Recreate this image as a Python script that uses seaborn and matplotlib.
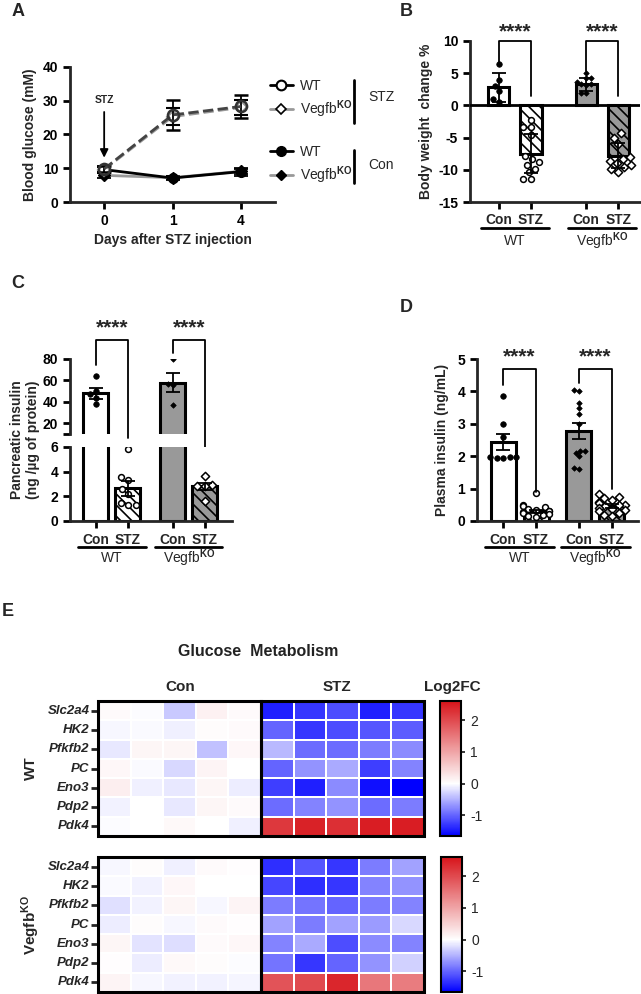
import numpy as np
import pandas as pd
import matplotlib
matplotlib.use('Agg')
import matplotlib.pyplot as plt
import matplotlib.transforms as mtransforms
from matplotlib.lines import Line2D
from matplotlib.patches import Rectangle
from matplotlib.colors import LinearSegmentedColormap
import seaborn as sns

# ---- A: blood glucose (mean, sem) ----
days = ['0', '1', '4']
glu_stz_wt = [9.8, 25.8, 28.3]
glu_stz_wt_sem = [1.0, 4.4, 3.5]
glu_stz_ko = [9.6, 25.3, 28.0]
glu_stz_ko_sem = [0.8, 2.5, 2.3]
glu_con_wt = [9.6, 7.1, 9.0]
glu_con_wt_sem = [1.0, 0.5, 1.2]
glu_con_ko = [7.9, 7.2, 9.1]
glu_con_ko_sem = [0.8, 0.5, 0.8]

groups = ['Con', 'STZ', 'Con', 'STZ']
genotypes = ['WT', 'Vegfb$^{\\mathrm{KO}}$']

# ---- B: body weight change % ----
bw_mean = [2.8, -7.5, 3.3, -7.8]
bw_err = [2.3, 3.0, 1.0, 1.9]
bw_wt_con = [6.5, 4.0, 3.0, 2.2, 1.0, 0.5]
bw_wt_stz = [-2.2, -3.3, -3.4, -4.6, -7.8, -8.4, -8.8, -9.3, -9.8, -10.4, -11.5, -11.5]
bw_ko_con = [5.0, 4.2, 4.2, 3.6, 3.4, 3.3, 3.2, 2.0, 2.0]
bw_ko_stz = [-4.3, -5.0, -6.0, -8.0, -8.3, -8.6, -9.0, -9.3, -9.5, -9.8, -10.3]

# ---- C: pancreatic insulin ----
pi_mean = [48, 2.65, 58, 2.8]
pi_err = [5, 0.6, 8.5, 0.25]
pi_wt_con = [64, 50, 47, 44, 38]
pi_wt_stz = [5.85, 3.6, 3.3, 2.6, 2.2, 1.5, 1.3, 1.3]
pi_ko_con = [80, 57, 56, 37]
pi_ko_stz = [3.65, 2.9, 2.85, 2.8, 1.6]

# ---- D: plasma insulin ----
pl_mean = [2.43, 0.3, 2.77, 0.45]
pl_err = [0.25, 0.05, 0.25, 0.06]
pl_wt_con = [3.87, 2.98, 2.6, 1.98, 1.96, 1.95, 1.97, 1.93]
pl_wt_stz = [0.85, 0.5, 0.45, 0.42, 0.38, 0.35, 0.32, 0.3, 0.28, 0.25, 0.22, 0.2, 0.15, 0.12]
pl_ko_con = [4.03, 4.0, 3.65, 3.5, 3.3, 3.0, 2.15, 2.1, 2.15, 2.0, 1.65, 1.6]
pl_ko_stz = [0.82, 0.75, 0.7, 0.65, 0.6, 0.55, 0.5, 0.48, 0.45, 0.4, 0.38, 0.35, 0.3, 0.25, 0.2, 0.15]

# ---- E: Log2FC heatmaps ----
genes = ['Slc2a4', 'HK2', 'Pfkfb2', 'PC', 'Eno3', 'Pdp2', 'Pdk4']
wt_con = [[0.05, -0.02, -0.35, 0.15, 0.05],
          [-0.05, -0.03, -0.1, 0.03, 0.05],
          [-0.15, 0.1, 0.1, -0.4, 0.08],
          [0.08, -0.03, -0.25, 0.12, 0.0],
          [0.18, -0.1, -0.15, 0.1, -0.12],
          [-0.08, 0.0, -0.15, 0.1, 0.05],
          [-0.02, 0.0, 0.07, 0.0, -0.1]]
wt_stz = [[-1.45, -1.3, -1.15, -1.45, -1.3],
          [-1.0, -1.3, -1.15, -1.1, -1.05],
          [-0.45, -0.95, -0.95, -0.85, -0.75],
          [-1.0, -0.7, -0.55, -1.25, -0.8],
          [-1.25, -1.45, -0.75, -1.55, -1.67],
          [-0.95, -0.8, -0.7, -0.95, -0.85],
          [2.2, 2.45, 2.3, 2.5, 2.5]]
ko_con = [[-0.05, 0.03, -0.1, 0.05, 0.02],
          [-0.03, -0.08, 0.08, 0.0, 0.0],
          [-0.2, -0.08, 0.1, -0.05, 0.12],
          [-0.12, 0.03, -0.05, 0.05, 0.02],
          [0.1, -0.18, -0.22, 0.05, 0.08],
          [0.02, -0.12, 0.07, 0.03, -0.02],
          [0.12, -0.05, -0.08, -0.08, -0.07]]
ko_stz = [[-1.35, -1.1, -1.3, -0.85, -0.6],
          [-1.2, -1.35, -1.3, -0.8, -0.7],
          [-0.85, -0.9, -1.0, -0.85, -0.8],
          [-0.6, -0.85, -0.6, -0.65, -0.25],
          [-0.8, -0.55, -1.15, -0.75, -0.8],
          [-0.9, -1.3, -1.0, -0.7, -0.3],
          [1.9, 2.0, 2.4, 1.5, 1.45]]
hm_vmin, hm_vmax = -1.65, 2.6

sns.set_style('ticks')
plt.rcParams['font.family'] = ['Liberation Sans', 'DejaVu Sans']
plt.rcParams['font.weight'] = 'bold'
plt.rcParams['axes.labelweight'] = 'bold'
plt.rcParams['mathtext.fontset'] = 'custom'
plt.rcParams['mathtext.rm'] = 'Liberation Sans'
plt.rcParams['mathtext.bf'] = 'Liberation Sans:bold'
plt.rcParams['hatch.linewidth'] = 1.2
plt.rcParams['hatch.color'] = 'black'

W, H = 641, 994
fig = plt.figure(figsize=(W / 100, H / 100), dpi=100)

def fx(x):
    return x / W

def fy(y):
    return 1 - y / H

def px_ax(x0, y0, x1, y1):
    return fig.add_axes([fx(x0), fy(y1), (x1 - x0) / W, (y1 - y0) / H])

def style_ax(ax, bottom=True):
    sns.despine(ax=ax, bottom=not bottom)
    for s in ['left', 'bottom']:
        ax.spines[s].set_linewidth(2)
    ax.tick_params(width=2, length=5, labelsize=10, colors='black')

GRAY = '#999999'

def bar_panel(ax, pos, means, errs, pts_list, width, show=(0, 1, 2, 3)):
    sns.barplot(x=pos, y=means, native_scale=True, width=width, color='white',
                edgecolor='black', linewidth=2.2, errorbar=None, ax=ax, zorder=2)
    for i, p in enumerate(ax.patches):
        if i >= 2:
            p.set_facecolor(GRAY)
        if i % 2 == 1:
            p.set_hatch('\\\\\\')
    styles = [('o', 'black', 4.0, 0.5), ('o', 'white', 4.2, 1.1),
              ('D', 'black', 2.8, 0.5), ('D', 'white', 4.2, 1.1)]
    for i in show:
        mk, fc, sz, lw = styles[i]
        pts = pts_list[i]
        sns.swarmplot(x=[pos[i]] * len(pts), y=pts, native_scale=True, ax=ax,
                      marker=mk, color=fc, edgecolor='black', linewidth=lw,
                      size=sz, zorder=4)
        ax.errorbar(pos[i], means[i], yerr=errs[i], fmt='none', ecolor='black',
                    elinewidth=1.3, capsize=5, capthick=1.3, zorder=5)

def group_labels(ax, pos, line_px, text_px, tick_px):
    tr = mtransforms.blended_transform_factory(ax.transData, fig.transFigure)
    for (a, b), name in zip([(pos[0], pos[1]), (pos[2], pos[3])], genotypes):
        ax.plot([a - 0.55, b + 0.55], [fy(line_px)] * 2, transform=tr, color='black',
                lw=2, clip_on=False)
        ax.text((a + b) / 2, fy(text_px), name, transform=tr, ha='center', va='center',
                fontsize=10, fontweight='normal')
        for x, g in zip((a, b), ('Con', 'STZ')):
            ax.text(x, fy(tick_px), g, transform=tr, ha='center', va='center',
                    fontsize=10, fontweight='bold')

def bracket(ax, x0, x1, y_top, y0, y1, y_star):
    ax.plot([x0, x0, x1, x1], [y0, y_top, y_top, y1], color='black', lw=1.3,
            clip_on=False, zorder=6)
    ax.text((x0 + x1) / 2, y_star, '****', ha='center', va='center', fontsize=15,
            fontweight='bold')

# ================= A =================
ax_a = px_ax(70, 67, 275, 202)
xd = np.arange(len(days))
ax_a.errorbar(xd, glu_con_ko, yerr=glu_con_ko_sem, color=GRAY, lw=2, marker='D', ms=6,
              mfc='black', mec='black', ecolor='black', capsize=5, elinewidth=1.3,
              capthick=1.3, zorder=3)
ax_a.errorbar(xd, glu_con_wt, yerr=glu_con_wt_sem, color='black', lw=2, marker='o', ms=7,
              mfc='black', mec='black', ecolor='black', capsize=5, elinewidth=1.3,
              capthick=1.3, zorder=3)
ax_a.errorbar(xd, glu_stz_ko, yerr=glu_stz_ko_sem, color=GRAY, lw=2, ls='--', marker='D',
              ms=6, mfc='white', mec=GRAY, mew=1.5, ecolor='black', capsize=5,
              elinewidth=1.3, capthick=1.3, zorder=4)
ax_a.errorbar(xd, glu_stz_wt, yerr=glu_stz_wt_sem, color='#444444', lw=2, ls='--', marker='o',
              ms=8, mfc='none', mec='#333333', mew=1.8, ecolor='black', capsize=5,
              elinewidth=1.3, capthick=1.3, zorder=5)
ax_a.set_xlim(-0.5, 2.5)
ax_a.set_ylim(0, 40)
ax_a.set_xticks(xd, days, fontweight='bold')
ax_a.set_yticks([0, 10, 20, 30, 40], ['0', '10', '20', '30', '40'], fontweight='bold')
style_ax(ax_a)
ax_a.set_xlabel('Days after STZ injection', fontsize=10, fontweight='bold')
ax_a.set_ylabel('Blood glucose (mM)', fontsize=10, fontweight='bold')
ax_a.annotate('', xy=(0, 12.3), xytext=(0, 27.5),
              arrowprops=dict(arrowstyle='-|>', color='black', lw=1.3, mutation_scale=12))
ax_a.text(0, 30.3, 'STZ', ha='center', va='center', fontsize=7.5, fontweight='bold')

h_stz = [Line2D([], [], color='black', lw=2, marker='o', ms=7, mfc='white', mec='black', mew=1.5),
         Line2D([], [], color=GRAY, lw=2, marker='D', ms=5, mfc='white', mec='black', mew=1.2)]
h_con = [Line2D([], [], color='black', lw=2, marker='o', ms=7, mfc='black', mec='black'),
         Line2D([], [], color=GRAY, lw=2, marker='D', ms=5, mfc='black', mec='black')]
leg_kw = dict(loc='upper left', frameon=False, handlelength=1.65, handletextpad=0.5,
              labelspacing=0.4, prop={'weight': 'normal', 'size': 10}, borderaxespad=0,
              borderpad=0)
fig.legend(h_stz, genotypes, bbox_to_anchor=(fx(270), fy(79)), **leg_kw)
fig.legend(h_con, genotypes, bbox_to_anchor=(fx(270), fy(145)), **leg_kw)
fig.add_artist(Line2D([fx(354)] * 2, [fy(80), fy(123)], color='black', lw=2))
fig.add_artist(Line2D([fx(354)] * 2, [fy(150), fy(183)], color='black', lw=2))
fig.text(fx(368), fy(97), 'STZ', fontsize=10, fontweight='normal', va='center')
fig.text(fx(368), fy(165), 'Con', fontsize=10, fontweight='normal', va='center')

# ================= B =================
ax_b = px_ax(470, 41, 640, 202)
pos_b = [0, 1, 2.72, 3.72]
bar_panel(ax_b, pos_b, bw_mean, bw_err, [bw_wt_con, bw_wt_stz, bw_ko_con, bw_ko_stz], 0.66)
ax_b.axhline(0, color='black', lw=2, zorder=3)
ax_b.set_xlim(-0.9, 4.4)
ax_b.set_ylim(-15, 10)
ax_b.set_yticks([-15, -10, -5, 0, 5, 10], ['-15', '-10', '-5', '0', '5', '10'], fontweight='bold')
ax_b.set_xticks(pos_b, [''] * 4)
style_ax(ax_b)
ax_b.set_ylabel('Body weight  change %', fontsize=10, fontweight='bold', labelpad=4)
ax_b.set_xlabel('')
group_labels(ax_b, pos_b, 228, 241, 220)
bracket(ax_b, pos_b[0], pos_b[1], 10, 6.8, 1.4, 11.4)
bracket(ax_b, pos_b[2], pos_b[3], 10, 5.4, 1.4, 11.4)

# ================= C (broken axis) =================
ax_cu = px_ax(70, 359, 232, 434)
ax_cl = px_ax(70, 447, 232, 521)
pos_c = [0, 1, 2.4, 3.4]
pi_pts = [pi_wt_con, pi_wt_stz, pi_ko_con, pi_ko_stz]
bar_panel(ax_cu, pos_c, pi_mean, pi_err, pi_pts, 0.78, show=(0, 2))
bar_panel(ax_cl, pos_c, pi_mean, pi_err, pi_pts, 0.78, show=(1, 3))
for ax in (ax_cu, ax_cl):
    ax.set_xlim(-0.81, 4.25)
    ax.set_xlabel('')
    ax.set_ylabel('')
ax_cu.set_ylim(10, 80)
ax_cu.set_yticks([10, 20, 40, 60, 80], ['', '20', '40', '60', '80'], fontweight='bold')
ax_cu.set_xticks([])
style_ax(ax_cu, bottom=False)
ax_cu.tick_params(axis='x', bottom=False)
ax_cl.set_ylim(0, 6)
ax_cl.set_yticks([0, 2, 4, 6], ['0', '2', '4', '6'], fontweight='bold')
ax_cl.set_xticks(pos_c, [''] * 4)
style_ax(ax_cl)
group_labels(ax_cl, pos_c, 547, 558, 540)
bracket(ax_cu, pos_c[0], pos_c[1], 97.7, 74.4, 6.3, 109)
bracket(ax_cu, pos_c[2], pos_c[3], 97.7, 85.6, -17, 109)
fig.text(fx(25), fy(440), 'Pancreatic insulin\n(ng /\u00b5g of protein)', rotation=90,
         ha='center', va='center', fontsize=10, fontweight='bold', multialignment='center')

# ================= D =================
ax_d = px_ax(477, 359, 638, 521)
pos_d = [0, 1, 2.3, 3.3]
bar_panel(ax_d, pos_d, pl_mean, pl_err, [pl_wt_con, pl_wt_stz, pl_ko_con, pl_ko_stz], 0.76)
ax_d.set_xlim(-0.79, 4.09)
ax_d.set_ylim(0, 5)
ax_d.set_yticks([0, 1, 2, 3, 4, 5], ['0', '1', '2', '3', '4', '5'], fontweight='bold')
ax_d.set_xticks(pos_d, [''] * 4)
style_ax(ax_d)
ax_d.set_xlabel('')
ax_d.set_ylabel('Plasma insulin (ng/mL)', fontsize=10, fontweight='bold', labelpad=6)
group_labels(ax_d, pos_d, 547, 558, 540)
bracket(ax_d, pos_d[0], pos_d[1], 4.69, 4.2, 0.9, 5.08)
bracket(ax_d, pos_d[2], pos_d[3], 4.69, 4.25, 1.0, 5.08)

# ================= E heatmaps =================
cmap = LinearSegmentedColormap.from_list(
    'log2fc', [(0, '#0000ff'), (-hm_vmin / (hm_vmax - hm_vmin), '#ffffff'), (1, '#d7141a')])

def heat(top, bottom, con, stz, cb_x0, cb_x1):
    axh = px_ax(98, top, 424, bottom)
    cax = px_ax(cb_x0, top, cb_x1, bottom)
    df = pd.DataFrame(np.hstack([np.array(con), np.array(stz)]), index=genes)
    sns.heatmap(df, ax=axh, cbar_ax=cax, cmap=cmap, vmin=hm_vmin, vmax=hm_vmax,
                linewidths=1.3, linecolor='white', xticklabels=False, yticklabels=genes)
    for x0 in (0, 5):
        axh.add_patch(Rectangle((x0, 0), 5, 7, fill=False, edgecolor='black', lw=2.2,
                                clip_on=False, zorder=5))
    axh.set_yticks(np.arange(7) + 0.5, genes, rotation=0, fontstyle='italic',
                   fontweight='bold', fontsize=9.5)
    axh.tick_params(axis='y', left=True, length=5, width=2, pad=1)
    axh.tick_params(axis='x', bottom=False)
    cax.set_yticks([-1, 0, 1, 2], ['-1', '0', '1', '2'], fontweight='normal', fontsize=10)
    cax.tick_params(axis='y', length=3, width=1.3)
    cb = axh.collections[0].colorbar
    cb.outline.set_linewidth(1.5)
    cb.outline.set_edgecolor('black')
    return axh

heat(701, 836, wt_con, wt_stz, 440, 461)
heat(857, 992, ko_con, ko_stz, 441, 462)
fig.text(fx(258), fy(652), 'Glucose  Metabolism', ha='center', va='center', fontsize=11.5,
         fontweight='bold', color='#222222')
fig.text(fx(180), fy(687), 'Con', ha='center', va='center', fontsize=11, fontweight='bold')
fig.text(fx(337), fy(687), 'STZ', ha='center', va='center', fontsize=11, fontweight='bold')
fig.text(fx(452), fy(687), 'Log2FC', ha='center', va='center', fontsize=11, fontweight='bold')
fig.text(fx(31), fy(768), 'WT', rotation=90, ha='center', va='center', fontsize=11,
         fontweight='bold')
fig.text(fx(31), fy(925), 'Vegfb$^{\\mathbf{KO}}$', rotation=90, ha='center', va='center',
         fontsize=11, fontweight='bold')

# panel letters
for lab, (x, y) in zip('ABCDE', [(18, 12), (406, 12), (18, 283), (406, 307), (8, 612)]):
    fig.text(fx(x), fy(y), lab, ha='center', va='center', fontsize=13, fontweight='bold')

fig.savefig('out.png', dpi=100)
